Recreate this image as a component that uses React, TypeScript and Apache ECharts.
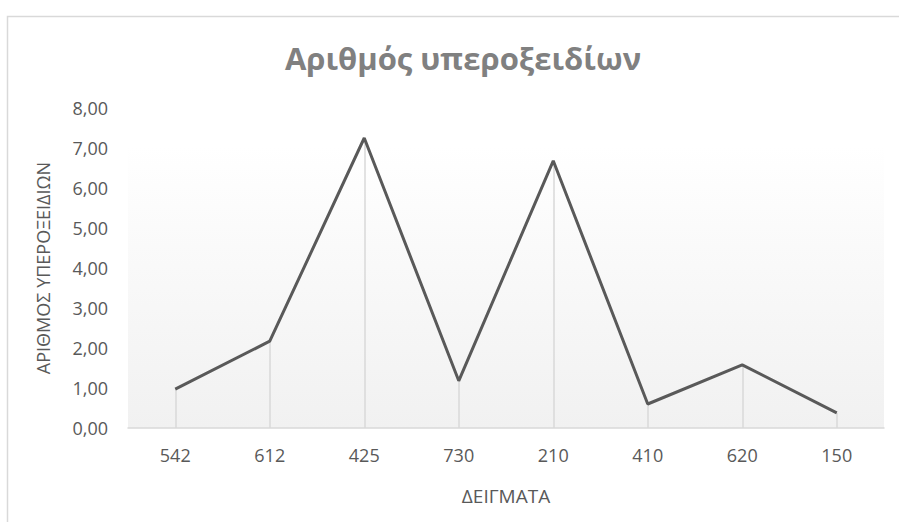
import React, { useEffect, useRef } from "react";
import * as echarts from "echarts";

const categories = ["542", "612", "425", "730", "210", "410", "620", "150"];
const values = [0.97, 2.17, 7.25, 1.18, 6.68, 0.6, 1.58, 0.38];
const titleText = "Αριθμός υπεροξειδίων";
const xName = "ΔΕΙΓΜΑΤΑ";
const yName = "ΑΡΙΘΜΟΣ ΥΠΕΡΟΞΕΙΔΙΩΝ";

export default function App() {
  const ref = useRef<HTMLDivElement>(null);
  useEffect(() => {
    if (!ref.current) return;
    const chart = echarts.init(ref.current, null, { renderer: "svg" });
    const font = "'Open Sans', 'Noto Sans', sans-serif";
    chart.setOption({
      animation: false,
      textStyle: { fontFamily: font },
      title: {
        text: titleText,
        left: 458,
        textAlign: "center",
        top: 37,
        textStyle: { fontFamily: font, fontSize: 31, fontWeight: "bold", color: "#808080" },
      },
      graphic: [
        {
          type: "rect",
          shape: { x: 7.5, y: 16.5, width: 1200, height: 800 },
          style: { fill: "none", stroke: "#d9d9d9", lineWidth: 1.5 },
          silent: true,
        },
      ],
      grid: { left: 128, right: 15, top: 108, bottom: 94 },
      xAxis: {
        type: "category",
        data: categories,
        boundaryGap: true,
        name: xName,
        nameLocation: "middle",
        nameGap: 58,
        nameTextStyle: { fontFamily: font, fontSize: 19, color: "#595959" },
        axisLine: { show: true, lineStyle: { color: "#d9d9d9", width: 1.5 } },
        axisTick: { show: false },
        axisLabel: { fontFamily: font, fontSize: 18, color: "#595959", margin: 18 },
        splitLine: { show: false },
      },
      yAxis: {
        type: "value",
        min: 0,
        max: 8,
        interval: 1,
        name: yName,
        nameLocation: "middle",
        nameGap: 76,
        nameRotate: 90,
        nameTextStyle: { fontFamily: font, fontSize: 18, color: "#595959" },
        axisLine: { show: false },
        axisTick: { show: false },
        splitLine: { show: false },
        axisLabel: {
          fontFamily: font,
          fontSize: 18,
          color: "#595959",
          margin: 20,
          formatter: (v: number) => v.toFixed(2).replace(".", ","),
        },
      },
      series: [
        {
          type: "line",
          data: values,
          symbol: "none",
          lineStyle: { color: "#595959", width: 3 },
          z: 5,
          markArea: {
            silent: true,
            z: 0,
            itemStyle: {
              color: new echarts.graphic.LinearGradient(0, 0, 0, 1, [
                { offset: 0, color: "#ffffff" },
                { offset: 1, color: "#f1f1f1" },
              ]),
            },
            data: [[{ yAxis: 0 }, { yAxis: 7.07 }]],
          },
          markLine: {
            silent: true,
            symbol: "none",
            label: { show: false },
            lineStyle: { color: "#d9d9d9", width: 1.5, type: "solid" },
            data: values.map((v, i) => [
              { coord: [i, 0] },
              { coord: [i, v] },
            ]),
          },
        },
      ],
    });
    return () => chart.dispose();
  }, []);
  return (
    <div
      ref={ref}
      style={{ position: "fixed", left: 0, top: 0, width: 899, height: 522, background: "#fff" }}
    />
  );
}
